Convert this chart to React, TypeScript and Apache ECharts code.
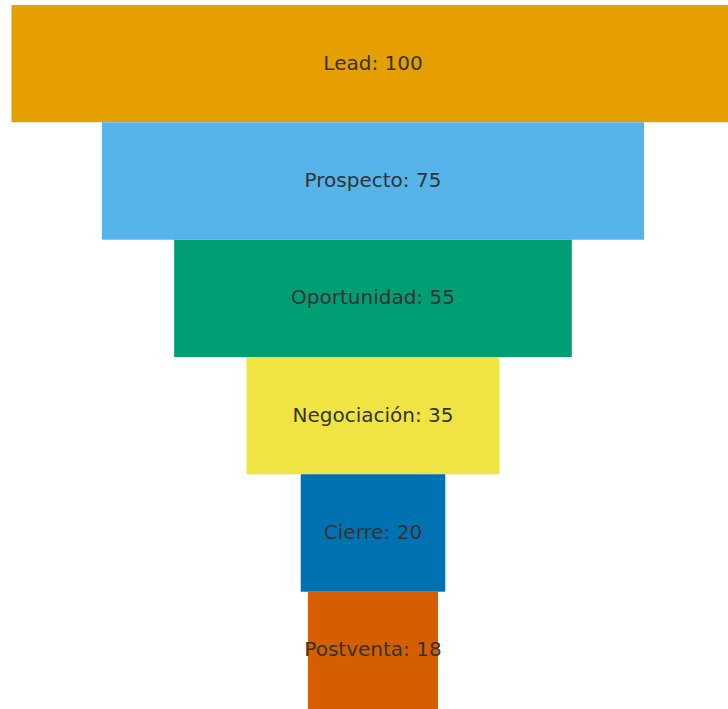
import React, { useEffect, useRef } from "react";
import * as echarts from "echarts";

const stages = ["Lead", "Prospecto", "Oportunidad", "Negociación", "Cierre", "Postventa"];
const values = [100, 75, 55, 35, 20, 18];
const colors = ["#E69F00", "#56B4E9", "#009E73", "#F0E442", "#0072B2", "#D55E00"];
const maxValue = 100;

export default function App() {
  const ref = useRef<HTMLDivElement>(null);
  useEffect(() => {
    if (!ref.current) return;
    const chart = echarts.init(ref.current, null, { renderer: "svg" });
    chart.setOption({
      animation: false,
      grid: { left: 11.5, right: 0.5, top: 5, bottom: 0 },
      xAxis: { type: "value", min: 0, max: maxValue, show: false },
      yAxis: { type: "category", data: stages, inverse: true, show: false },
      series: [
        {
          type: "bar",
          stack: "funnel",
          silent: true,
          barCategoryGap: "0%",
          itemStyle: { color: "transparent" },
          data: values.map((v) => (maxValue - v) / 2),
        },
        {
          type: "bar",
          stack: "funnel",
          barCategoryGap: "0%",
          data: values.map((v, i) => ({ value: v, itemStyle: { color: colors[i] } })),
          label: {
            show: true,
            position: "inside",
            formatter: "{b}: {c}",
            color: "#333333",
            fontFamily: "DejaVu Sans",
            fontSize: 20,
            offset: [0, -1],
          },
        },
      ],
    });
    return () => chart.dispose();
  }, []);
  return (
    <div
      style={{ position: "absolute", left: 0, top: 0, width: 728, height: 709, overflow: "hidden" }}
    >
      <div ref={ref} style={{ width: 735, height: 709 }} />
    </div>
  );
}
